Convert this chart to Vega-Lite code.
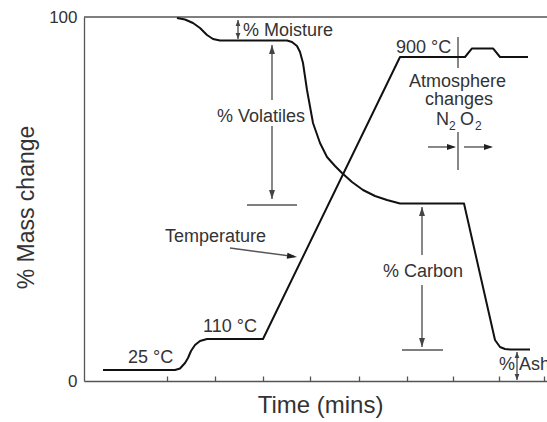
{
  "$schema": "https://vega.github.io/schema/vega-lite/v6.json",
  "autosize": {"type": "none"},
  "width": 463,
  "height": 364,
  "padding": {"left": 84, "top": 17, "right": 0, "bottom": 41},
  "background": "white",
  "config": {
    "font": "Liberation Sans",
    "view": {"stroke": null},
    "axis": {"grid": false}
  },
  "datasets": {
    "curves": [
      {"series": "mass", "x": 93, "y": 99.73},
      {"series": "mass", "x": 101, "y": 99.31},
      {"series": "mass", "x": 109, "y": 98.35},
      {"series": "mass", "x": 116, "y": 96.98},
      {"series": "mass", "x": 123, "y": 95.05},
      {"series": "mass", "x": 129, "y": 93.96},
      {"series": "mass", "x": 136, "y": 93.54},
      {"series": "mass", "x": 203, "y": 93.54},
      {"series": "mass", "x": 208, "y": 93.13},
      {"series": "mass", "x": 213, "y": 92.03},
      {"series": "mass", "x": 216, "y": 90.38},
      {"series": "mass", "x": 219, "y": 87.36},
      {"series": "mass", "x": 223, "y": 79.95},
      {"series": "mass", "x": 229, "y": 70.88},
      {"series": "mass", "x": 236, "y": 65.38},
      {"series": "mass", "x": 243, "y": 61.54},
      {"series": "mass", "x": 251, "y": 59.07},
      {"series": "mass", "x": 258, "y": 57.14},
      {"series": "mass", "x": 268, "y": 54.67},
      {"series": "mass", "x": 279, "y": 52.47},
      {"series": "mass", "x": 291, "y": 50.82},
      {"series": "mass", "x": 303, "y": 49.73},
      {"series": "mass", "x": 316, "y": 48.76},
      {"series": "mass", "x": 380, "y": 48.76},
      {"series": "mass", "x": 411, "y": 11.26},
      {"series": "mass", "x": 416, "y": 9.34},
      {"series": "mass", "x": 421, "y": 8.79},
      {"series": "mass", "x": 426, "y": 8.65},
      {"series": "mass", "x": 446, "y": 8.65},
      {"series": "temp", "x": 19, "y": 3.02},
      {"series": "temp", "x": 91, "y": 3.02},
      {"series": "temp", "x": 96, "y": 3.43},
      {"series": "temp", "x": 101, "y": 4.95},
      {"series": "temp", "x": 104, "y": 6.32},
      {"series": "temp", "x": 107, "y": 8.24},
      {"series": "temp", "x": 111, "y": 9.89},
      {"series": "temp", "x": 116, "y": 10.99},
      {"series": "temp", "x": 123, "y": 11.54},
      {"series": "temp", "x": 179, "y": 11.54},
      {"series": "temp", "x": 316, "y": 89.01},
      {"series": "temp", "x": 381, "y": 89.01},
      {"series": "temp", "x": 388, "y": 91.35},
      {"series": "temp", "x": 409, "y": 91.35},
      {"series": "temp", "x": 416, "y": 89.01},
      {"series": "temp", "x": 444, "y": 89.01}
    ],
    "segs": [
      {"x": 0, "y": 100, "x2": 463, "y2": 100},
      {"x": 154, "y": 99.18, "x2": 154, "y2": 93.96},
      {"x": 188, "y": 92.31, "x2": 188, "y2": 77.2},
      {"x": 188, "y": 70.05, "x2": 188, "y2": 50.0},
      {"x": 163, "y": 48.35, "x2": 213, "y2": 48.35},
      {"x": 146, "y": 36.54, "x2": 210, "y2": 34.2},
      {"x": 374, "y": 94.51, "x2": 374, "y2": 85.99},
      {"x": 374, "y": 68.41, "x2": 374, "y2": 57.97},
      {"x": 344, "y": 64.29, "x2": 370, "y2": 64.29},
      {"x": 380, "y": 64.29, "x2": 407, "y2": 64.29},
      {"x": 338, "y": 47.8, "x2": 338, "y2": 34.62},
      {"x": 338, "y": 26.37, "x2": 338, "y2": 9.34},
      {"x": 318, "y": 8.52, "x2": 359, "y2": 8.52},
      {"x": 433, "y": 7.97, "x2": 433, "y2": 0.27}
    ],
    "heads": [
      {"dir": "up", "kind": "big", "x": 188, "y": 92.31},
      {"dir": "up", "kind": "big", "x": 338, "y": 47.8},
      {"dir": "down", "kind": "big", "x": 188, "y": 50.0},
      {"dir": "down", "kind": "big", "x": 338, "y": 9.34},
      {"dir": "up", "kind": "small", "x": 154, "y": 99.18},
      {"dir": "up", "kind": "small", "x": 433, "y": 7.97},
      {"dir": "down", "kind": "small", "x": 154, "y": 93.96},
      {"dir": "down", "kind": "small", "x": 433, "y": 0.27},
      {"dir": "right", "kind": "big", "x": 372, "y": 64.29},
      {"dir": "right", "kind": "big", "x": 409, "y": 64.29},
      {"dir": "slant", "kind": "big", "x": 213, "y": 34.07}
    ],
    "labels": [
      {"label": "% Moisture", "x": 159, "y": 94.78},
      {"label": "% Volatiles", "x": 133, "y": 71.15},
      {"label": "Temperature", "x": 81, "y": 38.19},
      {"label": "25 °C", "x": 44, "y": 4.95},
      {"label": "110 °C", "x": 119, "y": 13.46},
      {"label": "900 °C", "x": 312, "y": 90.11},
      {"label": "Atmosphere", "x": 325, "y": 80.77},
      {"label": "changes", "x": 341, "y": 75.82},
      {"label": "N", "x": 352, "y": 70.33},
      {"label": "O", "x": 376, "y": 70.33},
      {"label": "% Carbon", "x": 299, "y": 28.57},
      {"label": "%", "x": 415, "y": 3.02},
      {"label": "Ash", "x": 435, "y": 3.02}
    ],
    "subs": [
      {"label": "2", "x": 365, "y": 68.96},
      {"label": "2", "x": 391, "y": 68.96}
    ]
  },
  "encoding": {
    "x": {
      "field": "x", "type": "quantitative",
      "scale": {"domain": [0, 463], "nice": false, "zero": false},
      "axis": {
        "values": [83, 131, 179, 226, 275, 323, 369, 415, 460],
        "labels": false,
        "tickSize": -5,
        "tickColor": "#555",
        "tickWidth": 1.3,
        "domainColor": "#555",
        "domainWidth": 1.3,
        "title": "Time (mins)",
        "titleFontSize": 24,
        "titleFontWeight": "normal",
        "titleColor": "#333",
        "titleBaseline": "alphabetic",
        "titleAlign": "center",
        "titleX": 236,
        "titleY": 31
      }
    },
    "y": {
      "field": "y", "type": "quantitative",
      "scale": {"domain": [0, 100], "nice": false, "zero": false},
      "axis": {
        "values": [0, 100],
        "ticks": false,
        "tickSize": 0,
        "labelPadding": 7,
        "labelFontSize": 17,
        "labelColor": "#333",
        "domainColor": "#555",
        "domainWidth": 1.3,
        "title": "% Mass change",
        "titleFontSize": 23,
        "titleFontWeight": "normal",
        "titleColor": "#333",
        "titleAngle": -90,
        "titleBaseline": "alphabetic",
        "titleAlign": "center",
        "titleX": -51,
        "titleY": 190
      }
    }
  },
  "layer": [
    {
      "data": {"name": "segs"},
      "mark": {"type": "rule", "color": "#555", "strokeWidth": 1.4},
      "encoding": {"x2": {"field": "x2"}, "y2": {"field": "y2"}}
    },
    {
      "data": {"name": "curves"},
      "mark": {"type": "line", "color": "#111", "strokeWidth": 2, "strokeJoin": "round"},
      "encoding": {"detail": {"field": "series"}}
    },
    {
      "data": {"name": "heads"},
      "transform": [{"filter": "datum.dir === 'up' && datum.kind === 'big'"}],
      "mark": {"type": "point", "shape": "M0,0L-0.33,1L0.33,1Z", "size": 324, "filled": true, "color": "#444", "opacity": 1}
    },
    {
      "data": {"name": "heads"},
      "transform": [{"filter": "datum.dir === 'down' && datum.kind === 'big'"}],
      "mark": {"type": "point", "shape": "M0,0L-0.33,-1L0.33,-1Z", "size": 324, "filled": true, "color": "#444", "opacity": 1}
    },
    {
      "data": {"name": "heads"},
      "transform": [{"filter": "datum.dir === 'up' && datum.kind === 'small'"}],
      "mark": {"type": "point", "shape": "M0,0L-0.4,1L0.4,1Z", "size": 144, "filled": true, "color": "#444", "opacity": 1}
    },
    {
      "data": {"name": "heads"},
      "transform": [{"filter": "datum.dir === 'down' && datum.kind === 'small'"}],
      "mark": {"type": "point", "shape": "M0,0L-0.4,-1L0.4,-1Z", "size": 144, "filled": true, "color": "#444", "opacity": 1}
    },
    {
      "data": {"name": "heads"},
      "transform": [{"filter": "datum.dir === 'right'"}],
      "mark": {"type": "point", "shape": "M0,0L-1,-0.33L-1,0.33Z", "size": 324, "filled": true, "color": "#222", "opacity": 1}
    },
    {
      "data": {"name": "heads"},
      "transform": [{"filter": "datum.dir === 'slant'"}],
      "mark": {"type": "point", "shape": "M0,0L-1,-0.3L-1,0.3Z", "size": 400, "angle": 7.65, "filled": true, "color": "#222", "opacity": 1}
    },
    {
      "data": {"name": "labels"},
      "mark": {"type": "text", "align": "left", "baseline": "alphabetic", "fontSize": 18, "color": "#333"},
      "encoding": {"text": {"field": "label"}}
    },
    {
      "data": {"name": "subs"},
      "mark": {"type": "text", "align": "left", "baseline": "alphabetic", "fontSize": 12, "color": "#333"},
      "encoding": {"text": {"field": "label"}}
    }
  ]
}
